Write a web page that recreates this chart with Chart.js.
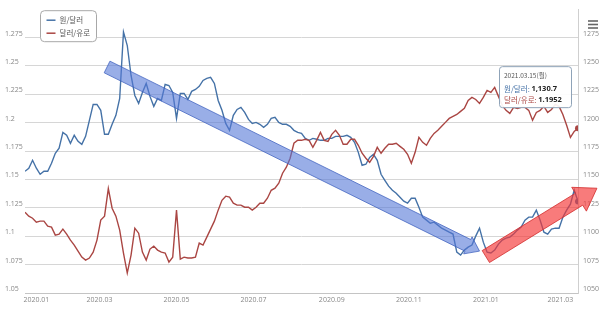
<!DOCTYPE html>
<html><head><meta charset="utf-8">
<script src="https://cdn.jsdelivr.net/npm/chart.js@4.4.0/dist/chart.umd.min.js"></script>
<style>html,body{margin:0;padding:0;background:#fff;}#wrap{position:relative;width:600px;height:315px;}</style>
</head><body><div id="wrap"><canvas id="c" width="600" height="315"></canvas></div>
<script>
const dates = ['2020-01-02','2020-01-05','2020-01-08','2020-01-11','2020-01-14','2020-01-17','2020-01-20','2020-01-23','2020-01-26','2020-01-29',
'2020-02-01','2020-02-04','2020-02-07','2020-02-10','2020-02-13','2020-02-16','2020-02-19','2020-02-22','2020-02-25','2020-02-28',
'2020-03-02','2020-03-05','2020-03-08','2020-03-11','2020-03-14','2020-03-17','2020-03-20','2020-03-23','2020-03-26','2020-03-29',
'2020-04-01','2020-04-04','2020-04-07','2020-04-10','2020-04-13','2020-04-16','2020-04-19','2020-04-22','2020-04-25','2020-04-28',
'2020-05-01','2020-05-04','2020-05-07','2020-05-10','2020-05-13','2020-05-16','2020-05-19','2020-05-22','2020-05-25','2020-05-28',
'2020-05-31','2020-06-03','2020-06-06','2020-06-09','2020-06-12','2020-06-15','2020-06-18','2020-06-21','2020-06-24','2020-06-27',
'2020-06-30','2020-07-03','2020-07-06','2020-07-09','2020-07-12','2020-07-15','2020-07-18','2020-07-21','2020-07-24','2020-07-27',
'2020-07-30','2020-08-02','2020-08-05','2020-08-08','2020-08-11','2020-08-14','2020-08-17','2020-08-20','2020-08-23','2020-08-26',
'2020-08-29','2020-09-01','2020-09-04','2020-09-07','2020-09-10','2020-09-13','2020-09-16','2020-09-19','2020-09-22','2020-09-25',
'2020-09-28','2020-10-01','2020-10-04','2020-10-07','2020-10-10','2020-10-13','2020-10-16','2020-10-19','2020-10-22','2020-10-25',
'2020-10-28','2020-10-31','2020-11-03','2020-11-06','2020-11-09','2020-11-12','2020-11-15','2020-11-18','2020-11-21','2020-11-24',
'2020-11-27','2020-11-30','2020-12-03','2020-12-06','2020-12-09','2020-12-12','2020-12-15','2020-12-18','2020-12-21','2020-12-24',
'2020-12-27','2020-12-30','2021-01-02','2021-01-05','2021-01-08','2021-01-11','2021-01-14','2021-01-17','2021-01-20','2021-01-23',
'2021-01-26','2021-01-29','2021-02-01','2021-02-04','2021-02-07','2021-02-10','2021-02-13','2021-02-16','2021-02-19','2021-02-22',
'2021-02-25','2021-02-28','2021-03-03','2021-03-06','2021-03-09','2021-03-12','2021-03-15'];

const wonPerDollar = [1157.2,1159.9,1166.9,1159.9,1154.6,1157.2,1157.2,1164.3,1173.1,1177.5,
1191.5,1188.9,1181.9,1188.9,1183.6,1181.0,1188.0,1202.1,1216.1,1216.1,
1210.9,1189.8,1189.8,1198.6,1206.5,1221.4,1280.0,1268.0,1241.6,1224.0,
1217.0,1226.7,1234.6,1223.2,1214.4,1221.4,1219.6,1233.7,1232.8,1226.7,
1203.8,1225.8,1225.8,1220.5,1227.6,1229.3,1232.0,1237.2,1239.0,1239.9,
1234.6,1219.6,1210.9,1199.4,1193.3,1206.5,1211.7,1213.5,1209.1,1202.9,
1199.4,1200.3,1198.6,1195.9,1198.6,1203.8,1204.7,1200.3,1198.6,1198.6,
1196.8,1193.3,1191.5,1190.6,1186.2,1184.5,1186.2,1185.4,1184.5,1184.5,
1186.2,1186.2,1188.0,1188.0,1188.0,1188.9,1187.1,1182.7,1173.9,1162.5,
1163.4,1169.5,1172.2,1166.9,1154.6,1149.3,1144.1,1140.5,1137.9,1134.4,
1130.9,1129.1,1133.5,1133.5,1125.6,1116.8,1114.2,1111.5,1112.4,1109.8,
1107.1,1105.4,1103.6,1101.9,1086.0,1083.4,1087.8,1090.4,1092.2,1100.1,
1107.1,1094.8,1086.0,1085.2,1087.8,1093.1,1096.6,1098.3,1099.2,1101.9,
1105.4,1108.0,1114.2,1116.8,1116.8,1123.0,1114.2,1103.6,1101.9,1106.3,
1107.1,1107.1,1116.8,1123.0,1128.2,1140.5,1130.7];

const dollarPerEuro = [1.1212,1.1177,1.1159,1.1124,1.1133,1.1133,1.1089,1.1080,1.1010,1.1019,
1.1063,1.1019,1.0966,1.0922,1.0869,1.0816,1.0790,1.0808,1.0860,1.0966,
1.1142,1.1177,1.1420,1.1247,1.1177,1.1054,1.0852,1.0676,1.0834,1.1071,
1.1027,1.0860,1.0790,1.0887,1.0913,1.0878,1.0860,1.0852,1.0772,1.0816,
1.1230,1.0799,1.0816,1.0808,1.0808,1.0816,1.0940,1.0922,1.0992,1.1063,
1.1133,1.1230,1.1317,1.1353,1.1344,1.1291,1.1274,1.1274,1.1256,1.1256,
1.1230,1.1256,1.1291,1.1291,1.1335,1.1405,1.1423,1.1467,1.1555,1.1608,
1.1687,1.1819,1.1845,1.1845,1.1854,1.1845,1.1783,1.1845,1.1915,1.1845,
1.1836,1.1898,1.1933,1.1889,1.1810,1.1810,1.1854,1.1854,1.1801,1.1731,
1.1687,1.1651,1.1704,1.1783,1.1731,1.1775,1.1810,1.1810,1.1819,1.1792,
1.1766,1.1722,1.1643,1.1739,1.1871,1.1827,1.1801,1.1862,1.1906,1.1933,
1.1968,1.2003,1.2038,1.2056,1.2073,1.2100,1.2126,1.2196,1.2223,1.2205,
1.2170,1.2223,1.2284,1.2267,1.2311,1.2232,1.2153,1.2109,1.2082,1.2135,
1.2126,1.2135,1.2135,1.2109,1.2021,1.2091,1.2109,1.2144,1.2091,1.2117,
1.2161,1.2144,1.2073,1.1977,1.1871,1.1924,1.1952];

const seriesNames = ['원/달러', '달러/유로'];
const xTickDates = ['2020-01-01','2020-03-01','2020-05-01','2020-07-01','2020-09-01','2020-11-01','2021-01-01','2021-03-01'];
const xTickLabels = ['2020.01','2020.03','2020.05','2020.07','2020.09','2020.11','2021.01','2021.03'];
const leftTicks = [1.05,1.075,1.1,1.125,1.15,1.175,1.2,1.225,1.25,1.275];
const leftTickLabels = ['1.05','1.075','1.1','1.125','1.15','1.175','1.2','1.225','1.25','1.275'];
const rightTicks = [1050,1075,1100,1125,1150,1175,1200,1225,1250,1275];
const rightTickLabels = ['1050','1075','1100','1125','1150','1175','1200','1225','1250','1275'];
const tooltipDate = '2021.03.15(월)';
const tooltipValues = ['1,130.7', '1.1952'];
// trend arrows in (date, 달러/유로 axis value)
const blueArrow = {from: ['2020-03-07', 1.2491], to: ['2020-12-27', 1.0869]};
const redArrow  = {from: ['2021-01-01', 1.0821], to: ['2021-03-30', 1.1423]};

const dayOf = s => { const [y,m,d] = s.split('-').map(Number); return (Date.UTC(y,m-1,d) - Date.UTC(2020,0,1)) / 86400000; };
const FONT = '"Open Sans","Noto Sans CJK KR",sans-serif';
const KFONT = '"Noto Sans CJK KR","Open Sans",sans-serif';
const BLUE = '#4572A7', RED = '#AA4643';
const last = dates.length - 1;

function drawArrow(ctx, x1, y1, x2, y2, w, hw, hl, fill, stroke) {
  const dx = x2 - x1, dy = y2 - y1, L = Math.hypot(dx, dy);
  const ux = dx / L, uy = dy / L, nx = -uy, ny = ux;
  const bx = x2 - ux * hl, by = y2 - uy * hl;
  ctx.beginPath();
  ctx.moveTo(x1 + nx * w, y1 + ny * w);
  ctx.lineTo(bx + nx * w, by + ny * w);
  ctx.lineTo(bx + nx * hw, by + ny * hw);
  ctx.lineTo(x2, y2);
  ctx.lineTo(bx - nx * hw, by - ny * hw);
  ctx.lineTo(bx - nx * w, by - ny * w);
  ctx.lineTo(x1 - nx * w, y1 - ny * w);
  ctx.closePath();
  ctx.fillStyle = fill; ctx.fill();
  ctx.strokeStyle = stroke; ctx.lineWidth = 1; ctx.stroke();
}

const overlay = {
  id: 'overlay',
  afterDatasetsDraw(chart) {
    const ctx = chart.ctx, xs = chart.scales.x, ys = chart.scales.yL;
    ctx.save();
    const P = p => [xs.getPixelForValue(dayOf(p[0])), ys.getPixelForValue(p[1])];
    let a = P(blueArrow.from), b = P(blueArrow.to);
    drawArrow(ctx, a[0], a[1], b[0], b[1], 6.5, 9.5, 13, 'rgba(85,120,215,0.6)', 'rgba(60,95,190,0.75)');
    a = P(redArrow.from); b = P(redArrow.to);
    drawArrow(ctx, a[0], a[1], b[0], b[1], 7, 14, 21, 'rgba(245,55,55,0.66)', 'rgba(210,45,45,0.8)');
    ctx.restore();
  },
  afterDraw(chart) {
    const ctx = chart.ctx, ca = chart.chartArea;
    ctx.save();
    // legend
    const lx = ca.left + 15.5, ly = ca.top + 1.5, lw = 56, lh = 31;
    ctx.beginPath(); ctx.roundRect(lx, ly, lw, lh, 4);
    ctx.fillStyle = '#fff'; ctx.fill(); ctx.strokeStyle = '#a8a8a8'; ctx.lineWidth = 1; ctx.stroke();
    ctx.textBaseline = 'middle'; ctx.textAlign = 'left';
    ctx.font = '7.5px ' + KFONT;
    [[BLUE, seriesNames[0], ly + 9.5], [RED, seriesNames[1], ly + 22.5]].forEach(([c, t, y]) => {
      ctx.strokeStyle = c; ctx.lineWidth = 1.5; ctx.beginPath(); ctx.moveTo(lx + 6, y); ctx.lineTo(lx + 15, y); ctx.stroke();
      ctx.fillStyle = '#555'; ctx.fillText(t, lx + 19, y);
    });
    // tooltip
    const meta0 = chart.getDatasetMeta(1).data[last];
    const tx2 = meta0.x - 7, ty = meta0.y - 62, tw = 72, th = 41;
    const tx = tx2 - tw;
    ctx.beginPath(); ctx.roundRect(tx + 0.5, ty + 0.5, tw, th, 3);
    ctx.fillStyle = 'rgba(255,255,255,0.92)'; ctx.fill();
    ctx.strokeStyle = '#8fa3b8'; ctx.lineWidth = 1; ctx.stroke();
    ctx.font = '6.5px ' + KFONT; ctx.fillStyle = '#555';
    ctx.fillText(tooltipDate, tx + 5, ty + 9.5);
    [[BLUE, seriesNames[0], tooltipValues[0], ty + 22.5], [RED, seriesNames[1], tooltipValues[1], ty + 34]].forEach(([c, n, v, y]) => {
      ctx.font = '7.5px ' + KFONT; ctx.fillStyle = c;
      const s = n + ': '; ctx.fillText(s, tx + 5, y);
      const w = ctx.measureText(s).width;
      ctx.font = 'bold 7.5px ' + FONT; ctx.fillStyle = '#222';
      ctx.fillText(v, tx + 5 + w, y);
    });
    // menu icon
    ctx.strokeStyle = '#666'; ctx.lineWidth = 1.6;
    [21, 24.5, 28].forEach(y => { ctx.beginPath(); ctx.moveTo(ca.right + 10, y); ctx.lineTo(ca.right + 20, y); ctx.stroke(); });
    ctx.restore();
  }
};

new Chart(document.getElementById('c'), {
  type: 'line',
  data: { datasets: [
    { label: seriesNames[0], yAxisID: 'yR', order: 1,
      data: dates.map((d, i) => ({ x: dayOf(d), y: wonPerDollar[i] })),
      borderColor: BLUE, backgroundColor: BLUE, borderWidth: 1.4, tension: 0,
      pointRadius: c => c.dataIndex === last ? 3 : 0, pointBorderWidth: 0, pointBackgroundColor: BLUE },
    { label: seriesNames[1], yAxisID: 'yL', order: 0,
      data: dates.map((d, i) => ({ x: dayOf(d), y: dollarPerEuro[i] })),
      borderColor: RED, backgroundColor: RED, borderWidth: 1.4, tension: 0,
      pointRadius: c => c.dataIndex === last ? 3 : 0, pointBorderWidth: 0, pointBackgroundColor: RED }
  ]},
  options: {
    animation: false, responsive: false, maintainAspectRatio: false,
    layout: { padding: { left: 5, top: 9, right: 0, bottom: 0 } },
    plugins: { legend: { display: false }, tooltip: { enabled: false } },
    scales: {
      x: { type: 'linear', min: dayOf(dates[0]), max: dayOf(dates[last]),
        grid: { display: false, drawTicks: false }, border: { display: true, color: '#c4c4c4' },
        afterBuildTicks: s => { s.ticks = xTickDates.map(d => ({ value: Math.max(dayOf(d), dayOf(dates[0]) + 9) })); },
        ticks: { autoSkip: false, maxRotation: 0, padding: 3, color: '#888', font: { size: 7, family: FONT },
          callback: (v, i) => xTickLabels[i] },
        afterFit: s => { s.height = 22; } },
      yL: { type: 'linear', position: 'left', min: 1.05, max: 1.3,
        afterBuildTicks: s => { s.ticks = leftTicks.map(v => ({ value: v })); },
        grid: { color: '#d6d6d6', drawTicks: false }, border: { display: false },
        ticks: { crossAlign: 'far', labelOffset: -4, color: '#888', font: { size: 7, family: FONT },
          callback: (v, i) => leftTickLabels[i] },
        afterFit: s => { s.width = 20; } },
      yR: { type: 'linear', position: 'right', min: 1050, max: 1300,
        afterBuildTicks: s => { s.ticks = rightTicks.map(v => ({ value: v })); },
        grid: { display: false, drawTicks: false }, border: { display: true, color: '#cfcfcf' },
        ticks: { padding: 5, labelOffset: -4, color: '#888', font: { size: 7, family: FONT },
          callback: (v, i) => rightTickLabels[i] },
        afterFit: s => { s.width = 22; } }
    }
  },
  plugins: [overlay]
});
</script></body></html>
